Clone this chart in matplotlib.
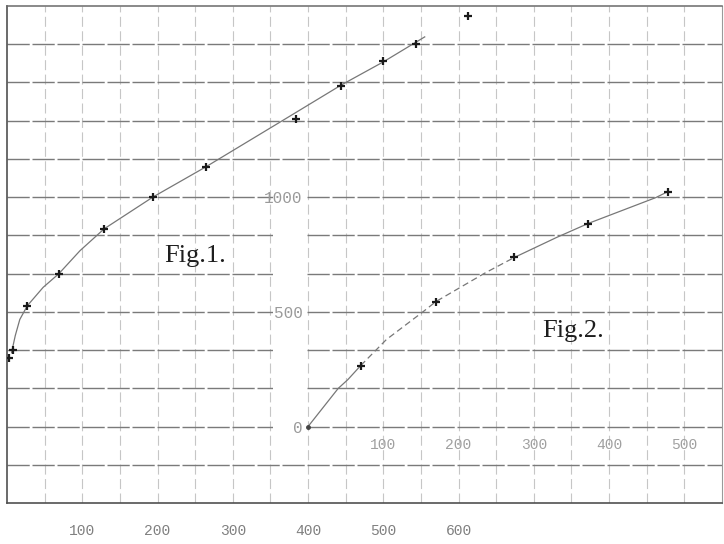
import numpy as np
import matplotlib.pyplot as plt
from matplotlib.patches import Rectangle

# ---- Fig. 1: measured points and drawn curve (x in units, y in units of the sheet) ----
fig1_x = [3, 8, 27, 69, 129, 194, 264, 384, 444, 500, 543, 613]
fig1_y = [630, 665, 860, 1000, 1195, 1335, 1465, 1675, 1820, 1925, 2000, 2125]
curve1_x = [6, 11, 17, 27, 48, 69, 97, 129, 194, 264, 363, 444, 500, 555]
curve1_y = [655, 730, 800, 860, 940, 1000, 1100, 1195, 1334, 1465, 1661, 1822, 1923, 2032]
fig1_ticks = [100, 200, 300, 400, 500, 600]
fig1_ticklabels = ["100", "200", "300", "400", "500", "600"]

# ---- Fig. 2: measured points and drawn curve ----
fig2_x = [70, 170, 274, 372, 478]
fig2_y = [266, 545, 737, 885, 1024]
curve2_x = [0, 40, 53, 70, 104, 153, 170, 236, 274, 330, 372, 462, 478]
curve2_y = [0, 166, 205, 266, 379, 501, 545, 671, 737, 824, 885, 998, 1024]
fig2_xticks = [100, 200, 300, 400, 500]
fig2_xticklabels = ["100", "200", "300", "400", "500"]
fig2_yticks = [0, 500, 1000]
fig2_yticklabels = ["0", "500", "1000"]

CELL_X = 50.0          # one grid square horizontally
CELL_Y = 500.0 / 3     # one grid square vertically
NX, NY = 19, 13        # squares across / down

fig = plt.figure(figsize=(7.24, 5.44), dpi=100)
fig.patch.set_facecolor("white")
pos = [7 / 724, 41 / 544, 715 / 724, 497 / 544]

# ---------------- sheet + Fig. 1 ----------------
ax1 = fig.add_axes(pos)
ax1.set_xlim(0, NX * CELL_X)
ax1.set_ylim(0, NY * CELL_Y)
ax1.set_facecolor("white")

for gx in np.arange(1, NX) * CELL_X:
    ax1.axvline(gx, color="#c6c6c6", lw=0.8, ls=(0, (9, 4)), zorder=1)
for gy in np.arange(1, NY) * CELL_Y:
    ax1.axhline(gy, color="#7a7a7a", lw=1.0, ls=(0, (16, 2)), zorder=1)

# clear column carrying the Fig. 2 ordinate figures
ax1.add_patch(Rectangle((353, 2 * CELL_Y - 15), 46, 6 * CELL_Y + 30,
                        facecolor="white", edgecolor="none", zorder=1.5))

for side in ("left", "bottom"):
    ax1.spines[side].set_color("#505050")
    ax1.spines[side].set_linewidth(1.2)
ax1.spines["top"].set_color("#6a6a6a")
ax1.spines["top"].set_linewidth(1.1)
ax1.spines["right"].set_color("#9a9a9a")
ax1.spines["right"].set_linewidth(0.8)

ax1.set_xticks(fig1_ticks)
ax1.set_xticklabels(fig1_ticklabels, fontfamily="Liberation Mono",
                    fontsize=10.5, color="#808080")
ax1.set_yticks([])
ax1.tick_params(axis="x", length=0, pad=15)

ax1.plot(curve1_x, curve1_y, color="#777777", lw=0.9, zorder=3)
ax1.plot(fig1_x, fig1_y, ls="none", marker="+", ms=6, mew=1.6,
         color="#1a1a1a", zorder=4)

ax1.text(250, 1075, "Fig.1.", family="Liberation Serif", fontsize=19,
         color="#1e1e1e", ha="center", va="center", zorder=5)
ax1.text(752, 750, "Fig.2.", family="Liberation Serif", fontsize=19,
         color="#1e1e1e", ha="center", va="center", zorder=5)

# ---------------- Fig. 2 (own origin on the same sheet) ----------------
ax2 = fig.add_axes(pos)
ax2.patch.set_visible(False)
ax2.set_xlim(-8 * CELL_X, (NX - 8) * CELL_X)
ax2.set_ylim(-2 * CELL_Y, (NY - 2) * CELL_Y)
for side in ("left", "bottom"):
    ax2.spines[side].set_position(("data", 0))
for side in ax2.spines:
    ax2.spines[side].set_visible(False)

ax2.set_xticks(fig2_xticks)
ax2.set_xticklabels(fig2_xticklabels, fontfamily="Liberation Mono",
                    fontsize=10.5, color="#a0a0a0")
ax2.set_yticks(fig2_yticks)
ax2.set_yticklabels(fig2_yticklabels, fontfamily="Liberation Mono",
                    fontsize=11.5, color="#9a9a9a")
ax2.tick_params(axis="x", length=0, pad=8.5)
ax2.tick_params(axis="y", length=0, pad=4)

ax2.plot(curve2_x[:4], curve2_y[:4], color="#777777", lw=0.9, zorder=3)
ax2.plot(curve2_x[3:9], curve2_y[3:9], color="#777777", lw=0.9,
         ls=(0, (5, 3)), zorder=3)
ax2.plot(curve2_x[8:], curve2_y[8:], color="#777777", lw=0.9, zorder=3)
ax2.plot([curve2_x[0]], [curve2_y[0]], ls="none", marker="o", ms=2.5,
         color="#444444", zorder=4)
ax2.plot(fig2_x, fig2_y, ls="none", marker="+", ms=6, mew=1.6,
         color="#1a1a1a", zorder=4)

fig.savefig("out.png", dpi=100, facecolor="white")
